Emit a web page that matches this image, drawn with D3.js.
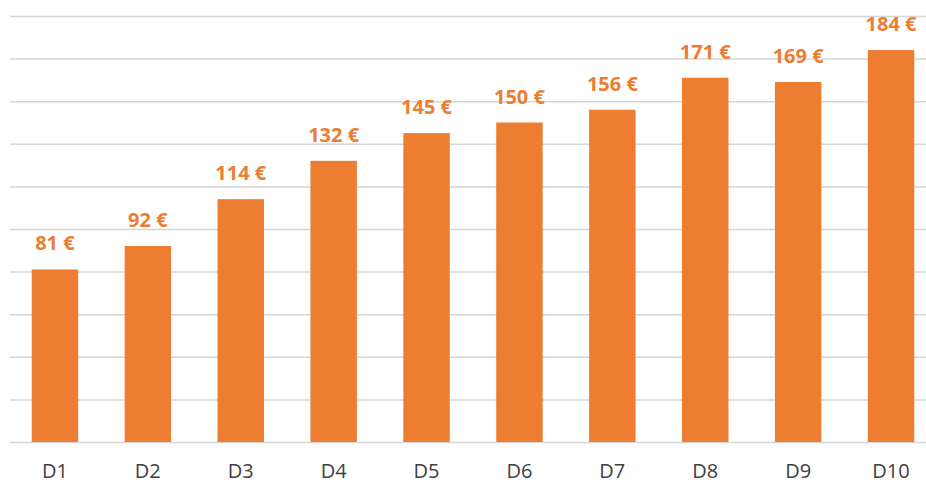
<!DOCTYPE html>
<html>
<head>
    <meta charset="utf-8">
    <script src="https://d3js.org/d3.v7.min.js"></script>
    <style>
        body{
            margin: 0;
            background: #fff;
        }
        svg{
            display: block;
        }
        .xlabel{
            font-family: "Open Sans", sans-serif;
            font-size: 20px;
            fill: #404040;
        }
        .vlabel{
            font-family: "Open Sans", sans-serif;
            font-size: 20px;
            font-weight: bold;
            fill: #ED7D31;
        }
    </style>
</head>
<body>
    <svg id="chart" width="926" height="483"></svg>
    <script>
        // data
        var deciles = ["D1", "D2", "D3", "D4", "D5", "D6", "D7", "D8", "D9", "D10"];
        var amounts = [81, 92, 114, 132, 145, 150, 156, 171, 169, 184];
        var gridTicks = [0, 20, 40, 60, 80, 100, 120, 140, 160, 180, 200];

        var svg = d3.select("#chart"),
            width = +svg.attr("width"),
            height = +svg.attr("height");

        var x = d3.scaleBand().domain(deciles).range([8.5, 937.5]).paddingInner(0.5).paddingOuter(0.25);
        var y = d3.scaleLinear().domain([0, 200]).range([442, 16]);

        // horizontal gridlines
        svg.append("g")
            .attr("transform", "translate(10,0)")
            .call(d3.axisLeft(y).tickValues(gridTicks).tickSize(-916).tickFormat(""))
            .call(g => g.select(".domain").remove())
            .call(g => g.selectAll("line").attr("stroke", "#d6d6d6").attr("stroke-width", 1.5));

        var data = deciles.map((d, i) => ({ name: d, value: amounts[i] }));

        // bars
        svg.selectAll("rect.bar")
            .data(data)
            .enter()
            .append("rect")
            .attr("class", "bar")
            .attr("x", d => x(d.name))
            .attr("width", x.bandwidth())
            .attr("y", d => y(d.value))
            .attr("height", d => y(0) - y(d.value))
            .attr("fill", "#ED7D31");

        // value labels
        svg.selectAll("text.vlabel")
            .data(data)
            .enter()
            .append("text")
            .attr("class", "vlabel")
            .attr("x", d => x(d.name) + x.bandwidth() / 2)
            .attr("y", d => y(d.value) - 19)
            .attr("text-anchor", "middle")
            .text(d => d.value + " €");

        // category labels
        svg.selectAll("text.xlabel")
            .data(deciles)
            .enter()
            .append("text")
            .attr("class", "xlabel")
            .attr("x", d => x(d) + x.bandwidth() / 2)
            .attr("y", 478)
            .attr("text-anchor", "middle")
            .text(d => d);
    </script>
</body>
</html>
